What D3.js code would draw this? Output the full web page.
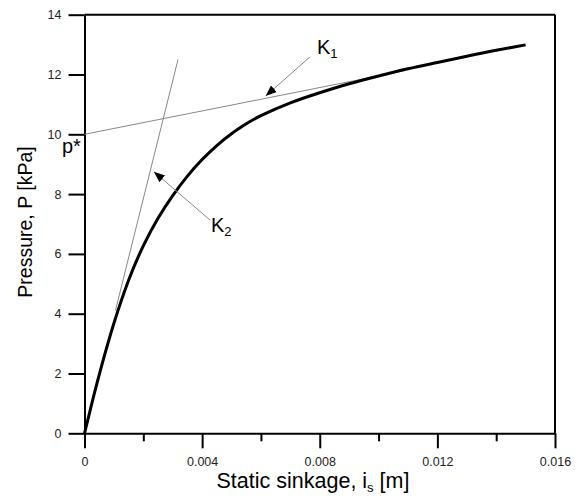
<!DOCTYPE html>
<html>
<meta charset="utf-8">
<head>
<style>
body { margin: 0; background: #fff; }
svg { font-family: Arial, "Liberation Sans", sans-serif; }
.axis path, .axis line { stroke: #000; stroke-width: 2px; }
.axis text { font-size: 12.5px; fill: #222; }
</style>
</head>
<body>
<svg width="579" height="504"></svg>

<script src="https://cdn.jsdelivr.net/npm/d3@7"></script>

<script>

// static sinkage [m] and pressure [kPa]
var sinkage  = [0, 0.0003, 0.0006, 0.001, 0.0015, 0.002, 0.0025, 0.003, 0.0035, 0.004, 0.0045,
                0.005, 0.0055, 0.006, 0.007, 0.008, 0.009, 0.010, 0.011, 0.012, 0.013, 0.014, 0.015];
var pressure = [0, 1.2, 2.32, 3.68, 5.12, 6.27, 7.19, 7.95, 8.6, 9.155, 9.625,
                10.02, 10.35, 10.625, 11.05, 11.39, 11.69, 11.95, 12.19, 12.4, 12.61, 12.81, 12.99];

// tangent lines [sinkage, pressure]
var tangentK1 = [[0, 10], [0.0109, 12.13]];
var tangentK2 = [[0.00105, 4.1], [0.00318, 12.5]];

// arrows: from label to line
var arrowK1 = [[0.00767, 12.59], [0.00616, 11.28]];
var arrowK2 = [[0.00427, 7.13], [0.00236, 8.75]];

var xTicks = [0, 0.004, 0.008, 0.012, 0.016];
var xMinor = [0.002, 0.006, 0.010, 0.014];
var yTicks = [0, 2, 4, 6, 8, 10, 12, 14];

var svg = d3.select("svg");

var x = d3.scaleLinear().domain([0, 0.016]).range([84.5, 555]);
var y = d3.scaleLinear().domain([0, 14]).range([433.3, 14.7]);

// frame top and right
svg.append("line")
    .attr("x1", x(0)).attr("x2", x(0.016))
    .attr("y1", y(14)).attr("y2", y(14))
    .attr("stroke", "#000").attr("stroke-width", 2);
svg.append("line")
    .attr("x1", x(0.016)).attr("x2", x(0.016))
    .attr("y1", y(14)).attr("y2", y(0))
    .attr("stroke", "#000").attr("stroke-width", 2);

// minor x ticks
svg.append("g")
    .attr("class", "axis")
    .attr("transform", "translate(0," + y(0) + ")")
    .call(d3.axisBottom(x).tickValues(xMinor).tickSize(8).tickFormat(""))
    .select(".domain").remove();

svg.append("g")
    .attr("class", "axis")
    .attr("transform", "translate(0," + y(0) + ")")
    .call(d3.axisBottom(x).tickValues(xTicks).tickSize(15).tickPadding(9)
          .tickSizeOuter(0).tickFormat(function(d) { return d === 0 ? "0" : d3.format(".3f")(d); }));

svg.append("g")
    .attr("class", "axis")
    .attr("transform", "translate(" + x(0) + ",0)")
    .call(d3.axisLeft(y).tickValues(yTicks).tickSize(16).tickPadding(7).tickSizeOuter(0));

// arrow head
svg.append("defs").append("marker")
    .attr("id", "head")
    .attr("viewBox", "0 0 10 10")
    .attr("refX", 10).attr("refY", 5)
    .attr("markerWidth", 11).attr("markerHeight", 11)
    .attr("markerUnits", "userSpaceOnUse")
    .attr("orient", "auto")
  .append("path")
    .attr("d", "M0,1L10,5L0,9Z")
    .attr("fill", "#000");

var line = d3.line()
    .x(function(d) { return x(d[0]); })
    .y(function(d) { return y(d[1]); });

// tangents
[tangentK1, tangentK2].forEach(function(t) {
  svg.append("path")
      .attr("d", line(t))
      .attr("fill", "none")
      .attr("stroke", "#888")
      .attr("stroke-width", 1);
});

// main curve
var pts = d3.zip(sinkage, pressure);
svg.append("path")
    .attr("d", line.curve(d3.curveNatural)(pts))
    .attr("fill", "none")
    .attr("stroke", "#000")
    .attr("stroke-width", 3);
line.curve(d3.curveLinear);

// arrows
[arrowK1, arrowK2].forEach(function(a) {
  svg.append("path")
      .attr("d", line(a))
      .attr("fill", "none")
      .attr("stroke", "#888")
      .attr("stroke-width", 1)
      .attr("marker-end", "url(#head)");
});

// labels
function kLabel(px, py, sub) {
  var t = svg.append("text")
      .attr("x", px).attr("y", py)
      .attr("font-size", 20);
  t.append("tspan").text("K");
  t.append("tspan").attr("font-size", 13).attr("dy", 4).text(sub);
}
kLabel(317, 54, "1");
kLabel(211, 232, "2");

svg.append("text")
    .attr("x", 62).attr("y", 153)
    .attr("font-size", 20)
    .text("p*");

// axis titles
var xt = svg.append("text")
    .attr("x", 313).attr("y", 488)
    .attr("text-anchor", "middle")
    .attr("font-size", 21.5);
xt.append("tspan").text("Static sinkage, i");
xt.append("tspan").attr("font-size", 13).attr("dy", 4).text("s");
xt.append("tspan").attr("dy", -4).text(" [m]");

svg.append("text")
    .attr("transform", "translate(32,222) rotate(-90)")
    .attr("text-anchor", "middle")
    .attr("font-size", 19.5)
    .text("Pressure, P [kPa]");

</script>
</body>
</html>
